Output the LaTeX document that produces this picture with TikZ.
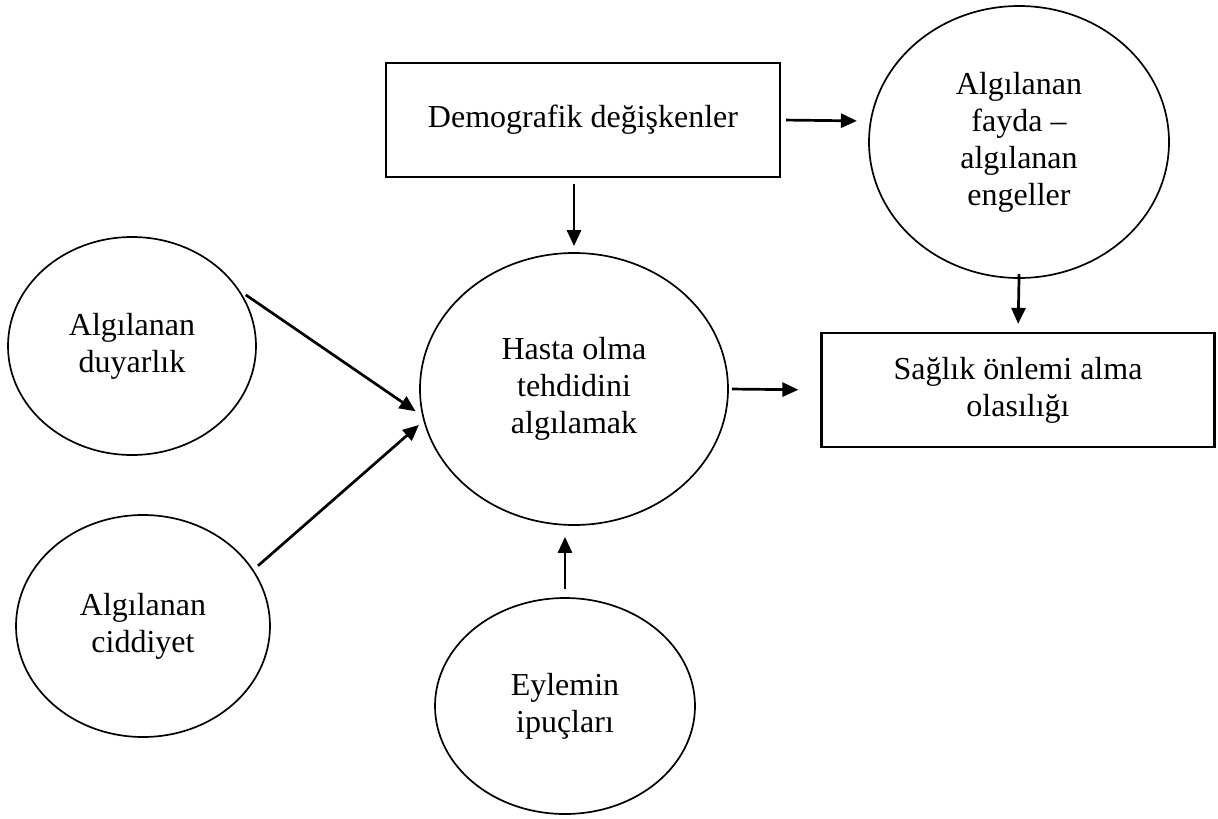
\documentclass[tikz,border=0pt]{standalone}
\usepackage{fontspec}
\setmainfont{Liberation Serif}
\usepackage{tikz}
\usetikzlibrary{arrows.meta,shapes.geometric}

\begin{document}
\begin{tikzpicture}[
    x=1pt, y=-1pt,
    every node/.style={font=\fontsize{32}{37}\selectfont, align=center},
    factor/.style={draw, ellipse, line width=1.7pt, inner sep=0pt},
    outcome/.style={draw, rectangle, line width=2.2pt, minimum width=394pt, minimum height=114pt},
    link/.style={draw, line width=2.7pt, -{Triangle[length=16pt,width=14pt]}}
]
    \useasboundingbox (0,0) rectangle (1218,819);

    \node[outcome]  (demog)    at (583,120)  {Demografik değişkenler};
    \node[factor, minimum width=300pt, minimum height=272pt] (benefit)  at (1019,142) {Algılanan\\fayda –\\algılanan\\engeller};
    \node[factor, minimum width=248pt, minimum height=218pt] (duyarlik) at (132,346)  {Algılanan\\duyarlık};
    \node[factor, minimum width=254pt, minimum height=222pt] (ciddiyet) at (143,626)  {Algılanan\\ciddiyet};
    \node[factor, minimum width=308pt, minimum height=272pt] (threat)   at (574,389)  {Hasta olma\\tehdidini\\algılamak};
    \node[factor, minimum width=260pt, minimum height=216pt] (cue)      at (565,706)  {Eylemin\\ipuçları};
    \node[outcome, minimum width=393pt] (health) at (1018,390) {Sağlık önlemi alma\\olasılığı};

    \path (demog.east)                edge[link, shorten <=5pt, shorten >=13pt] (benefit.172)
          (demog.south -| threat.north) edge[link, shorten <=6pt, shorten >=6pt] (threat.north)
          (benefit.south)             edge[link, shorten <=-5pt, shorten >=8pt] (health.north)
          (threat.east)               edge[link, shorten <=3pt, shorten >=22pt] (health.west)
          (duyarlik.27)               edge[link, shorten <=7pt, shorten >=8pt]  (threat.190)
          (ciddiyet.27)               edge[link, shorten <=6pt, shorten >=6pt]  (threat.192)
          (cue.north)                 edge[link, shorten <=8pt, shorten >=11pt] (cue.north |- threat.south);
\end{tikzpicture}
\end{document}
